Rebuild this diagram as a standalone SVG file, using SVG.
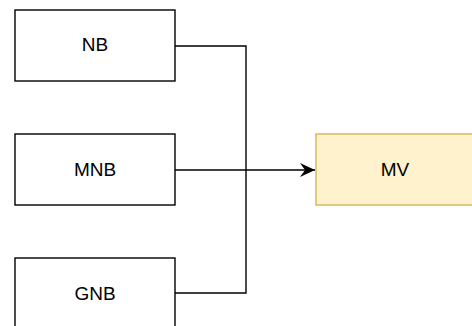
<svg xmlns="http://www.w3.org/2000/svg" width="472" height="326" viewBox="0 0 472 326">
<style>
.box{fill:#ffffff;stroke:#000000;stroke-width:1.4}
.mv{fill:#fff2cc;stroke:#d6b656;stroke-width:1.4}
.lbl{font-family:"Liberation Sans",Arial,sans-serif;font-size:19px;fill:#000000;text-anchor:middle;dominant-baseline:central}
.edge{fill:none;stroke:#000000;stroke-width:1.4}
</style>
<defs>
<marker id="arr" viewBox="0 0 15 14" refX="15" refY="7" markerWidth="15" markerHeight="14" markerUnits="userSpaceOnUse" orient="auto">
<path d="M0,0 L15,7 L0,14 L5,7 Z" fill="#000000"/>
</marker>
</defs>
<rect width="472" height="326" fill="#ffffff"/>
<g id="connectors">
<path class="edge" d="M175,46 H246 V170"/>
<path class="edge" d="M175,293 H246 V170"/>
<path class="edge" d="M175,170 H315" marker-end="url(#arr)"/>
</g>
<g id="nb"><rect class="box" x="15" y="10" width="160" height="71"/><text class="lbl" x="95" y="44.5">NB</text></g>
<g id="mnb"><rect class="box" x="15" y="134" width="160" height="71"/><text class="lbl" x="95" y="169">MNB</text></g>
<g id="gnb"><rect class="box" x="15" y="258" width="160" height="71"/><text class="lbl" x="95" y="293">GNB</text></g>
<g id="mv"><rect class="mv" x="316" y="134" width="160" height="71"/><text class="lbl" x="395" y="169">MV</text></g>
</svg>
